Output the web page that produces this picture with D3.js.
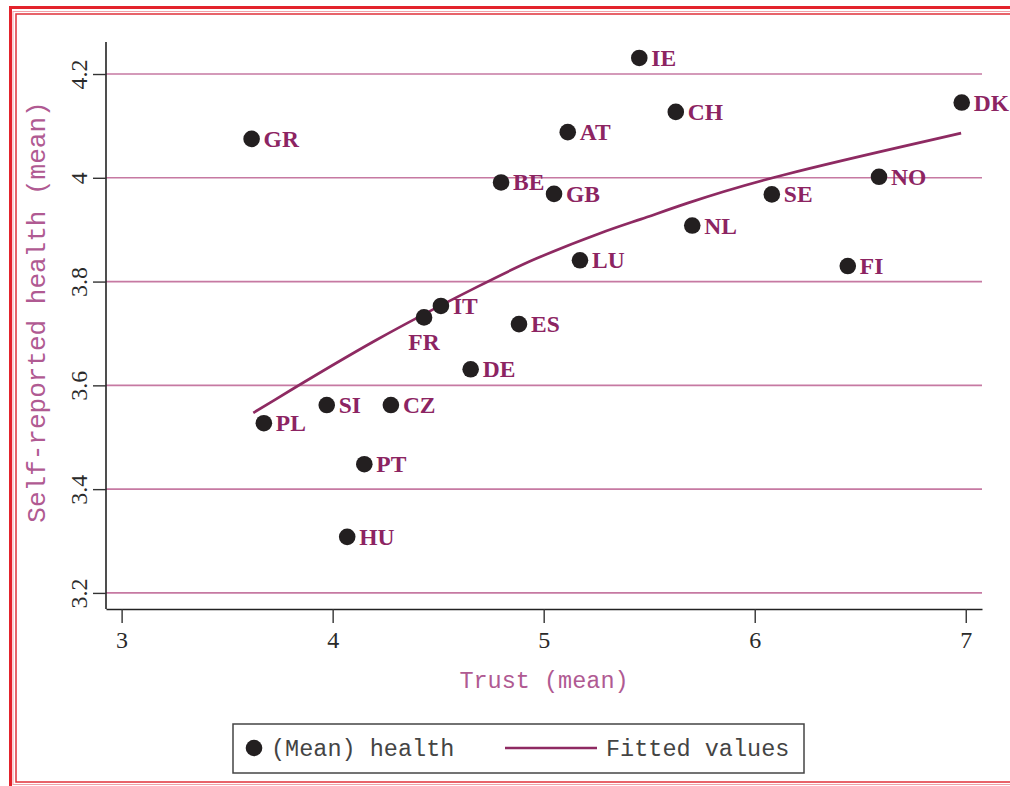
<!DOCTYPE html>
<html>
<head>
<meta charset="utf-8">
<script src="https://cdn.jsdelivr.net/npm/d3@7"></script>
<style>
  body { margin:0; background:#fff; }
  svg { display:block; }
</style>
</head>
<body>
<svg></svg>
<script>
// country means
var countries = ["GR","PL","SI","CZ","PT","HU","FR","IT","DE","ES","BE","GB","AT","LU","IE","CH","NL","SE","FI","NO","DK"]
var trust     = [3.616,3.674,3.972,4.276,4.150,4.069,4.433,4.513,4.654,4.883,4.798,5.049,5.114,5.172,5.453,5.626,5.704,6.081,6.441,6.589,6.981]
var health    = [4.075,3.527,3.562,3.562,3.448,3.308,3.731,3.753,3.631,3.718,3.991,3.969,4.088,3.841,4.231,4.127,3.908,3.968,3.830,4.002,4.145]

// fitted line, points picked along the drawn curve
var fitX = [3.624,4.224,4.734,4.935,5.299,5.456,5.646,6.049,6.978]
var fitY = [3.547,3.695,3.800,3.841,3.899,3.919,3.947,4.000,4.086]

var xTicks = [3,4,5,6,7]
var yTicks = [3.2,3.4,3.6,3.8,4,4.2]

var mainCode = function(){
    var screen = {width:1010, height:786}
    var plot = {left:106, right:982, top:42, bottom:609}
    var labelColor = "#8c2462"
    var lineColor = "#8e2a62"
    var gridColor = "#c679a2"
    var titleColor = "#b05a92"

    var svg = d3.select("svg")
        .attr("width", screen.width)
        .attr("height", screen.height)

    //red double frame round the figure
    svg.append("rect")
        .attr("x",10.5).attr("y",7.5)
        .attr("width",1010).attr("height",780)
        .attr("fill","none").attr("stroke","#e3232c").attr("stroke-width",3)
    svg.append("rect")
        .attr("x",13).attr("y",11.5)
        .attr("width",1010).attr("height",773)
        .attr("fill","none").attr("stroke","#f2a0a8").attr("stroke-width",1)
    svg.append("rect")
        .attr("x",16).attr("y",14)
        .attr("width",1010).attr("height",768)
        .attr("fill","none").attr("stroke","#e0303a").attr("stroke-width",1.5)

    var xScale = d3.scaleLinear()
        .domain([2.926,7.077])
        .range([plot.left,plot.right])
    var yScale = d3.scaleLinear()
        .domain([3.169,4.2617])
        .range([plot.bottom,plot.top])

    //horizontal grid lines
    svg.append("g").attr("id","grid")
        .selectAll("line")
        .data(yTicks)
        .enter()
        .append("line")
        .attr("x1",plot.left)
        .attr("x2",plot.right)
        .attr("y1",function(d){return yScale(d)})
        .attr("y2",function(d){return yScale(d)})
        .attr("stroke",gridColor)
        .attr("stroke-width",1.6)

    //axes
    var xAxis = d3.axisBottom(xScale).tickValues(xTicks).tickSize(14).tickSizeOuter(0).tickFormat(d3.format("~g"))
    var yAxis = d3.axisLeft(yScale).tickValues(yTicks).tickSize(13).tickSizeOuter(0).tickFormat(d3.format("~g"))

    var gx = svg.append("g")
        .attr("id","xAxis")
        .attr("transform","translate(0,"+plot.bottom+")")
        .call(xAxis)
    var gy = svg.append("g")
        .attr("id","yAxis")
        .attr("transform","translate("+plot.left+",0)")
        .call(yAxis)

    gy.select(".domain").attr("d","M0,"+plot.top+"V"+plot.bottom)

    ;[gx,gy].forEach(function(g){
        g.select(".domain").attr("stroke","#222").attr("stroke-width",1.6)
        g.selectAll(".tick line").attr("stroke","#333").attr("stroke-width",1.4)
        g.selectAll(".tick text")
            .attr("fill","#2a2a2a")
            .style("font-family","'Liberation Serif', 'Times New Roman', serif")
            .style("font-size","24px")
    })
    gx.selectAll(".tick text").attr("y",22).attr("dy","0.71em")
    gy.selectAll(".tick text")
        .attr("x",0).attr("y",-19).attr("dy",0)
        .attr("text-anchor","middle")
        .attr("transform","rotate(-90)")

    //axis titles
    svg.append("text")
        .attr("x",(plot.left+plot.right)/2)
        .attr("y",688)
        .attr("text-anchor","middle")
        .attr("fill",titleColor)
        .style("font-family","'Liberation Mono', 'Courier New', monospace")
        .style("font-size","23.5px")
        .text("Trust (mean)")
    svg.append("text")
        .attr("transform","translate(45,312) rotate(-90)")
        .attr("text-anchor","middle")
        .attr("fill",titleColor)
        .style("font-family","'Liberation Mono', 'Courier New', monospace")
        .style("font-size","26px")
        .text("Self-reported health (mean)")

    //fitted curve
    var fitData = fitX.map(function(x,i){return [x,fitY[i]]})
    var lineGenerator = d3.line()
        .x(function(d){return xScale(d[0])})
        .y(function(d){return yScale(d[1])})
        .curve(d3.curveBasis)
    svg.append("path")
        .datum(fitData)
        .attr("d",lineGenerator)
        .attr("fill","none")
        .attr("stroke",lineColor)
        .attr("stroke-width",2.7)

    //points and labels
    var pts = countries.map(function(c,i){return {name:c, x:trust[i], y:health[i]}})
    var gs = svg.append("g").attr("id","points")
        .selectAll("g")
        .data(pts)
        .enter()
        .append("g")
        .attr("transform",function(d){return "translate("+xScale(d.x)+","+yScale(d.y)+")"})
    gs.append("circle")
        .attr("r",8.3)
        .attr("fill","#231f20")
    gs.append("text")
        .text(function(d){return d.name})
        .attr("x",function(d){return d.name=="FR" ? 0 : 12})
        .attr("y",function(d){return d.name=="FR" ? 33 : 8})
        .attr("text-anchor",function(d){return d.name=="FR" ? "middle" : "start"})
        .attr("fill",labelColor)
        .style("font-family","'Liberation Serif', 'Times New Roman', serif")
        .style("font-weight","bold")
        .style("font-size","23.5px")

    //legend
    var legend = svg.append("g").attr("id","legend")
    legend.append("rect")
        .attr("x",233).attr("y",724)
        .attr("width",571).attr("height",49)
        .attr("fill","#fff").attr("stroke","#444").attr("stroke-width",1.5)
    legend.append("circle")
        .attr("cx",254).attr("cy",748).attr("r",8.3)
        .attr("fill","#231f20")
    legend.append("line")
        .attr("x1",505).attr("x2",597).attr("y1",748).attr("y2",748)
        .attr("stroke",lineColor).attr("stroke-width",2.7)
    legend.selectAll("text")
        .data([{t:"(Mean) health",x:271},{t:"Fitted values",x:606}])
        .enter()
        .append("text")
        .attr("x",function(d){return d.x})
        .attr("y",756)
        .attr("fill","#444")
        .style("font-family","'Liberation Mono', 'Courier New', monospace")
        .style("font-size","23.5px")
        .text(function(d){return d.t})
}

mainCode()
</script>
</body>
</html>
